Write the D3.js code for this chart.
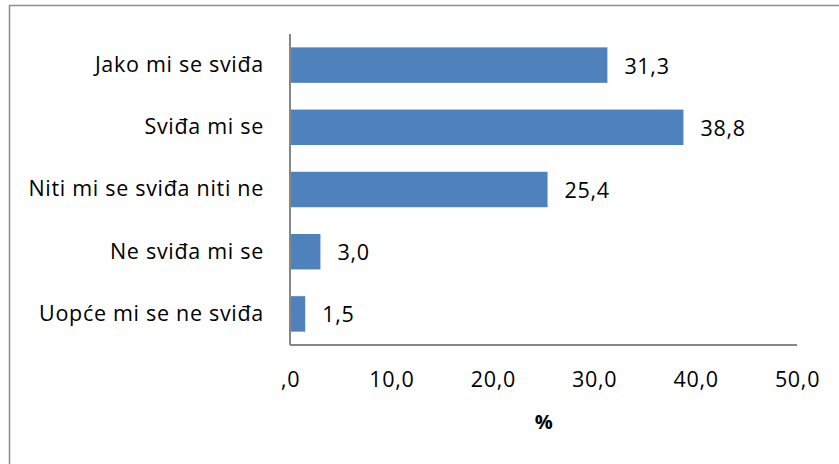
<!DOCTYPE html>
<html>
<head>
<meta charset="utf-8">
<script src="https://cdn.jsdelivr.net/npm/d3@7"></script>
<style>
  body { margin: 0; background: #fff; }
  svg text { font-family: "Open Sans", sans-serif; fill: #000; letter-spacing: 0.7px; }
</style>
</head>
<body>
<svg width="839" height="464"></svg>
<script>
// kategorije i postoci
const categories = ['Jako mi se sviđa', 'Sviđa mi se', 'Niti mi se sviđa niti ne', 'Ne sviđa mi se', 'Uopće mi se ne sviđa'];
const values = [31.3, 38.8, 25.4, 3.0, 1.5];
const ticks = [0, 10, 20, 30, 40, 50];
const tickLabels = [',0', '10,0', '20,0', '30,0', '40,0', '50,0'];

const svg = d3.select('svg');
const fontSize = '21.5px';

// okvir oko cijelog grafa
svg.append('rect')
   .attr('x', 9.5).attr('y', 5.5)
   .attr('width', 900).attr('height', 500)
   .attr('fill', 'none').attr('stroke', '#8c8c8c').attr('stroke-width', 1.5);

const plotLeft = 290, plotRight = 797, plotTop = 34, plotBottom = 345;

const x = d3.scaleLinear().domain([0, 50]).range([plotLeft, plotRight]);
const y = d3.scaleBand().domain(categories).range([plotTop, plotBottom]).paddingInner(0.43).paddingOuter(0.215);

// stupci
svg.selectAll('rect.bar')
   .data(values)
   .join('rect')
   .attr('class', 'bar')
   .attr('x', x(0))
   .attr('y', (d, i) => y(categories[i]))
   .attr('width', d => x(d) - x(0))
   .attr('height', y.bandwidth())
   .attr('fill', '#4f81bd');

// vrijednosti pored stupaca
svg.selectAll('text.val')
   .data(values)
   .join('text')
   .attr('class', 'val')
   .attr('x', d => x(d) + 17)
   .attr('y', (d, i) => y(categories[i]) + y.bandwidth() / 2 + 1)
   .attr('dy', '0.35em')
   .style('font-size', fontSize)
   .text(d => d.toFixed(1).replace('.', ','));

// os y
const yAxis = svg.append('g')
   .attr('transform', `translate(${plotLeft},0)`)
   .call(d3.axisLeft(y).tickSize(0).tickPadding(26));
yAxis.select('.domain').attr('stroke', '#868686').attr('stroke-width', 2).attr('d', `M0,${plotTop}V${plotBottom}`);
yAxis.selectAll('text').style('font-size', fontSize).style('font-family', '"Open Sans", sans-serif');

// os x
const xAxis = svg.append('g')
   .attr('transform', `translate(0,${plotBottom})`)
   .call(d3.axisBottom(x).tickValues(ticks).tickFormat((d, i) => tickLabels[i]).tickSize(0).tickPadding(27));
xAxis.select('.domain').attr('stroke', '#868686').attr('stroke-width', 2).attr('d', `M${plotLeft},0H${plotRight}`);
xAxis.selectAll('text').style('font-size', fontSize).style('font-family', '"Open Sans", sans-serif');

svg.append('text')
   .attr('x', 544).attr('y', 422)
   .attr('dy', '0.35em')
   .attr('text-anchor', 'middle')
   .style('font-size', '20px').style('font-weight', 'bold')
   .text('%');
</script>
</body>
</html>
